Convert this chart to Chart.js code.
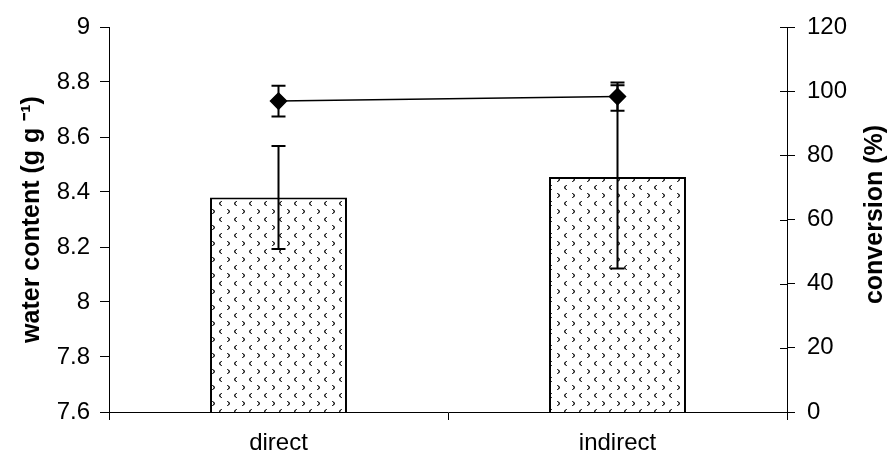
<!DOCTYPE html>
<html>
<head>
<meta charset="utf-8">
<script src="https://cdn.jsdelivr.net/npm/chart.js@4/dist/chart.umd.min.js"></script>
<style>
html,body{margin:0;padding:0;background:#fff;}
#wrap{width:887px;height:459px;}
</style>
</head>
<body>
<div id="wrap"><canvas id="c" width="887" height="459"></canvas></div>
<script>
const categories = ['direct', 'indirect'];
const waterContent = [8.38, 8.455];
const waterContentErr = [0.187, 0.333];
const conversion = [96.9, 98.3];
const conversionErr = [4.8, 4.4];
const leftTicks = [7.6, 7.8, 8, 8.2, 8.4, 8.6, 8.8, 9];
const rightTicks = [0, 20, 40, 60, 80, 100, 120];
const leftTitle = 'water content (g g \u207B\u00B9)';
const rightTitle = 'conversion (%)';

function makePattern() {
  const t = document.createElement('canvas');
  t.width = 15; t.height = 16;
  const g = t.getContext('2d');
  g.fillStyle = '#fff';
  g.fillRect(0, 0, 15, 16);
  function px(x, y, c) { g.fillStyle = c; g.fillRect(x, y, 1, 1); }
  // ">" chevron
  [[0,0,'#333'],[1,0,'#999'],[1,1,'#222'],[2,1,'#777'],[2,2,'#222'],[1,2,'#999'],[1,3,'#222'],[2,3,'#777'],[0,4,'#333'],[1,4,'#999']]
    .forEach(p => px(2 + p[0], 1 + p[1], p[2]));
  // "<" chevron
  [[2,0,'#333'],[1,0,'#999'],[1,1,'#222'],[0,1,'#777'],[0,2,'#222'],[1,2,'#999'],[1,3,'#222'],[0,3,'#777'],[2,4,'#333'],[1,4,'#999']]
    .forEach(p => px(9 + p[0], 9 + p[1], p[2]));
  return g.createPattern(t, 'repeat');
}
const ctx0 = document.getElementById('c').getContext('2d');
const pattern = makePattern();

const errorPlugin = {
  id: 'errs',
  afterDatasetsDraw(chart) {
    const c = chart.ctx;
    const xs = chart.scales.x, yl = chart.scales.yL, yr = chart.scales.yR;
    c.save();
    c.strokeStyle = '#000';
    c.lineWidth = 2;
    const cap = 7;
    function eb(x, y1, y2) {
      c.beginPath();
      c.moveTo(x, y1); c.lineTo(x, y2);
      c.moveTo(x - cap, y1); c.lineTo(x + cap, y1);
      c.moveTo(x - cap, y2); c.lineTo(x + cap, y2);
      c.stroke();
    }
    categories.forEach((cat, i) => {
      const x = xs.getPixelForValue(i);
      eb(x, yl.getPixelForValue(waterContent[i] + waterContentErr[i]), yl.getPixelForValue(waterContent[i] - waterContentErr[i]));
      eb(x, yr.getPixelForValue(conversion[i] + conversionErr[i]), yr.getPixelForValue(conversion[i] - conversionErr[i]));
    });
    // inward ticks on right axis
    c.lineWidth = 1;
    const ax = yr.left;
    yr.ticks.forEach(t => {
      const y = Math.round(yr.getPixelForValue(t.value)) + 0.5;
      c.beginPath();
      c.moveTo(ax - 7, y); c.lineTo(ax, y);
      c.stroke();
    });
    c.restore();
  },
  afterDraw(chart) {
    const c = chart.ctx;
    const yr = chart.scales.yR;
    c.save();
    c.fillStyle = '#000';
    c.font = 'bold 25px "Liberation Sans"';
    c.textAlign = 'center';
    c.textBaseline = 'middle';
    c.translate(875, (yr.top + yr.bottom) / 2 - 5);
    c.rotate(-Math.PI / 2);
    c.fillText(rightTitle, 0, 0);
    c.restore();
  }
};

new Chart(ctx0, {
  data: {
    labels: categories,
    datasets: [
      {
        type: 'line',
        data: conversion,
        yAxisID: 'yR',
        borderColor: '#000',
        borderWidth: 1.5,
        backgroundColor: '#000',
        pointStyle: 'rectRot',
        pointRadius: 8,
        pointBackgroundColor: '#000',
        pointBorderColor: '#000',
        fill: false,
        tension: 0,
        order: 0
      },
      {
        type: 'bar',
        data: waterContent,
        yAxisID: 'yL',
        backgroundColor: pattern,
        borderColor: '#000',
        borderWidth: 2,
        borderSkipped: 'bottom',
        categoryPercentage: 1,
        barPercentage: 0.404,
        order: 1
      }
    ]
  },
  options: {
    responsive: false,
    animation: false,
    devicePixelRatio: 1,
    layout: { padding: { top: 27, right: 0, left: 0, bottom: 0 } },
    plugins: { legend: { display: false }, tooltip: { enabled: false } },
    scales: {
      x: {
        offset: true,
        grid: { display: true, drawOnChartArea: false, offset: true, tickLength: 8, color: '#000', lineWidth: 1 },
        border: { display: true, color: '#000', width: 1 },
        ticks: { color: '#000', font: { family: 'Liberation Sans', size: 24 }, padding: 9 },
        afterFit(s) { s.height = 47; }
      },
      yL: {
        position: 'left',
        min: 7.6, max: 9,
        afterBuildTicks(s) { s.ticks = leftTicks.map(v => ({ value: v })); },
        grid: { display: true, drawOnChartArea: false, tickLength: 9, color: '#000', lineWidth: 1 },
        border: { display: true, color: '#000', width: 1 },
        ticks: { color: '#000', font: { family: 'Liberation Sans', size: 24 }, padding: 10, callback: v => String(v) },
        title: { display: true, text: leftTitle, color: '#000', font: { family: 'Liberation Sans', size: 25, weight: 'bold' }, padding: { top: 17, bottom: 0 } },
        afterFit(s) { s.width = 109; }
      },
      yR: {
        position: 'right',
        min: 0, max: 120,
        afterBuildTicks(s) { s.ticks = rightTicks.map(v => ({ value: v })); },
        grid: { display: true, drawOnChartArea: false, tickLength: 8, color: '#000', lineWidth: 1 },
        border: { display: true, color: '#000', width: 1 },
        ticks: { color: '#000', font: { family: 'Liberation Sans', size: 24 }, padding: 12, callback: v => String(v) },
        title: { display: false },
        afterFit(s) { s.width = 100; }
      }
    }
  },
  plugins: [errorPlugin]
});
</script>
</body>
</html>
